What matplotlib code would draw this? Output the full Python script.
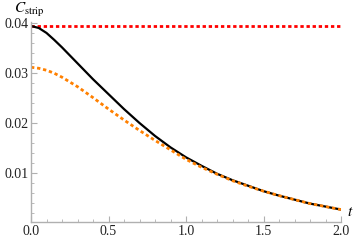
import numpy as np
import matplotlib
matplotlib.use("Agg")
import matplotlib.pyplot as plt
from matplotlib.ticker import MultipleLocator

plt.rcParams['font.family'] = ['Liberation Serif', 'DejaVu Serif']
plt.rcParams['mathtext.fontset'] = 'stix'

# values
t = [0.0, 0.05, 0.1, 0.15, 0.2, 0.3, 0.4, 0.5, 0.6, 0.7, 0.8, 0.9, 1.0,
     1.1, 1.2, 1.3, 1.4, 1.5, 1.6, 1.7, 1.8, 1.9, 2.0]
c_exact = [0.0395, 0.0391, 0.0381, 0.0367, 0.0352, 0.0320, 0.0288, 0.0258,
           0.0228, 0.0200, 0.0174, 0.0151, 0.0131, 0.0114, 0.0098, 0.0085,
           0.0074, 0.0063, 0.0054, 0.0046, 0.0038, 0.0032, 0.0026]
c_approx = [0.0312, 0.0310, 0.0306, 0.0300, 0.0292, 0.0273, 0.0251, 0.0228,
            0.0206, 0.0185, 0.0165, 0.0146, 0.0127, 0.0111, 0.0097, 0.0084,
            0.0073, 0.0063, 0.0054, 0.0046, 0.0038, 0.0032, 0.0026]
c_max = 0.0395

fig = plt.figure(figsize=(3.6, 2.42), dpi=100)
ax = fig.add_axes([31/360, 20/242, 310/360, 200/242])

ax.plot([t[0], t[-1]], [c_max, c_max], color='#ff0000', lw=2.0,
        dashes=(1.2, 1.0), solid_capstyle='butt')
ax.plot(t, c_exact, color='black', lw=1.6)
ax.plot(t, c_approx, color='#ff8000', lw=2.0, dashes=(1.2, 1.0))

ax.set_xlim(0, 2.0)
ax.set_ylim(0.0001, 0.0403)
ax.set_xticks([0.0, 0.5, 1.0, 1.5, 2.0])
ax.set_xticklabels(['0.0', '0.5', '1.0', '1.5', '2.0'])
ax.set_yticks([0.01, 0.02, 0.03, 0.04])
ax.set_yticklabels(['0.01', '0.02', '0.03', '0.04'])
ax.xaxis.set_minor_locator(MultipleLocator(0.1))
ax.yaxis.set_minor_locator(MultipleLocator(0.002))

for s in ['top', 'right']:
    ax.spines[s].set_visible(False)
for s in ['left', 'bottom']:
    ax.spines[s].set_color('#b0b0b0')
    ax.spines[s].set_linewidth(1.0)
ax.tick_params(which='both', direction='in', color='#b0b0b0', labelsize=10,
               labelcolor='#222222')
ax.tick_params(which='major', length=4, width=0.8, pad=2)
ax.tick_params(which='minor', length=2, width=0.6)

fig.text(14/360, 1 - 10/242, r'$C_{\mathrm{strip}}$', fontsize=11, va='center', ha='left')
fig.text(350/360, 1 - 213/242, r'$t$', fontsize=11, va='center', ha='center')

fig.savefig('out.png', dpi=100)
